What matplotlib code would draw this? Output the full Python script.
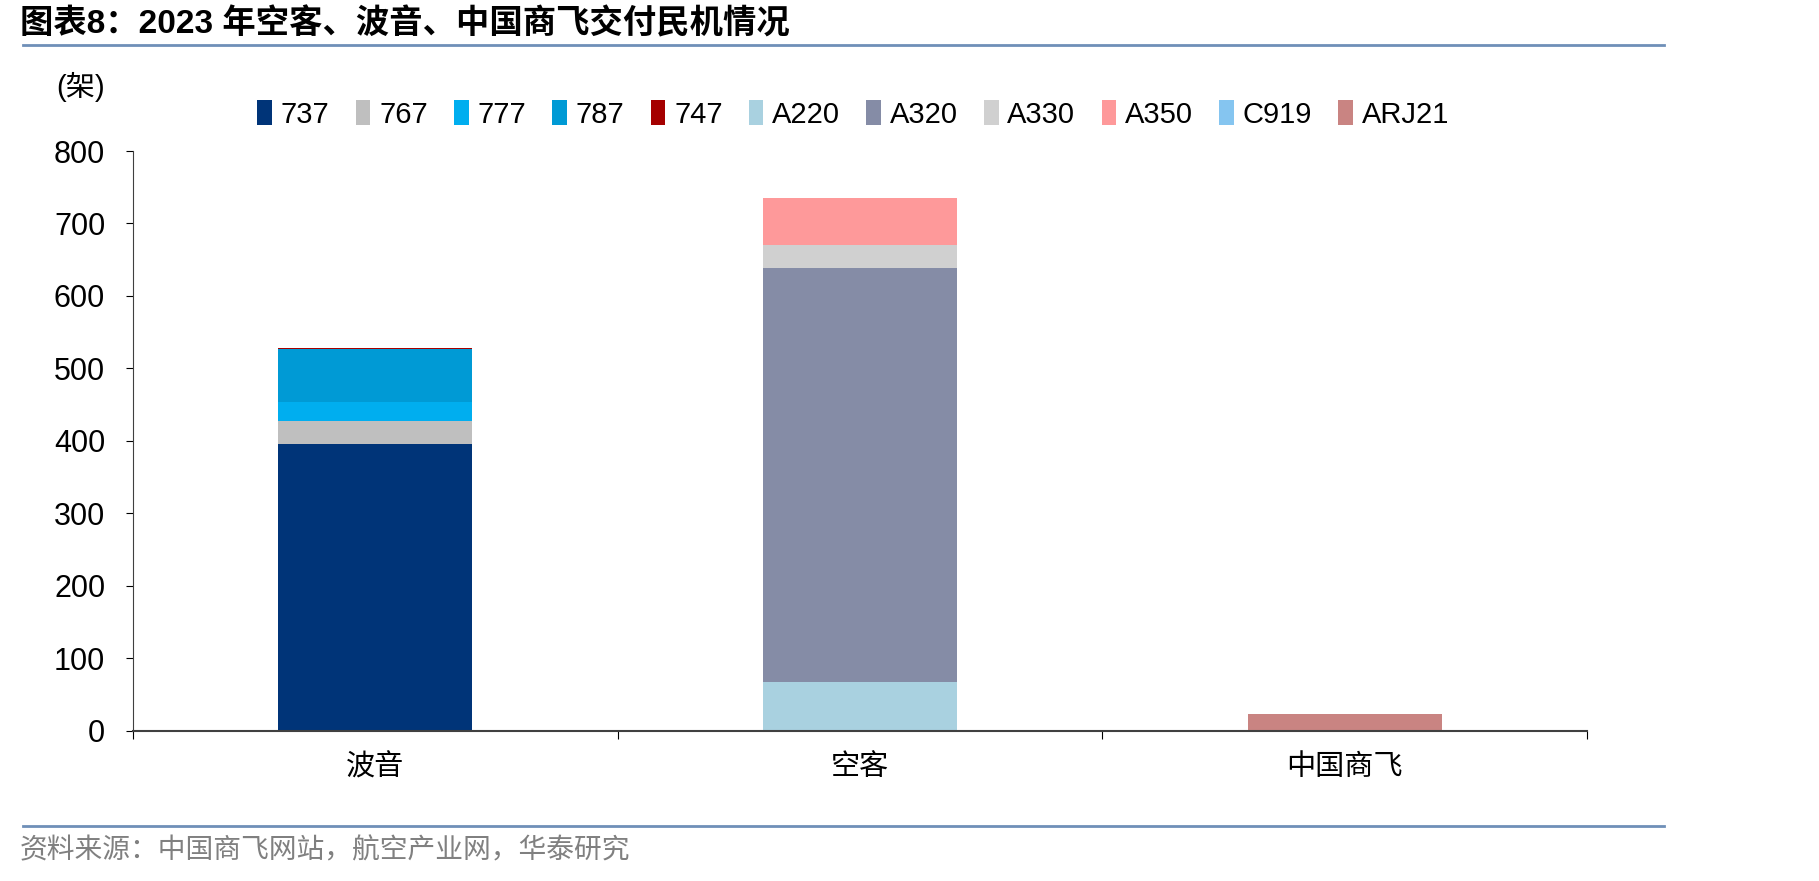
import numpy as np
import matplotlib
matplotlib.use('Agg')
from matplotlib import pyplot as plt

plt.rcParams['font.family'] = ['Liberation Sans', 'Noto Sans CJK SC']

cats = ['波音', '空客', '中国商飞']
names = ['737', '767', '777', '787', '747', 'A220', 'A320', 'A330', 'A350', 'C919', 'ARJ21']
vals = {
    '737': [396, 0, 0],
    '767': [32, 0, 0],
    '777': [26, 0, 0],
    '787': [73, 0, 0],
    '747': [1, 0, 0],
    'A220': [0, 68, 0],
    'A320': [0, 571, 0],
    'A330': [0, 32, 0],
    'A350': [0, 64, 0],
    'C919': [0, 0, 2],
    'ARJ21': [0, 0, 21],
}
colors = ['#003478', '#bfbfbf', '#00aeef', '#009ad5', '#a50000', '#a9d1e0',
          '#858ca6', '#d0d0d0', '#fe999a', '#85c5f0', '#c98482']

fig = plt.figure(figsize=(18.19, 8.81), dpi=100)
ax = fig.add_axes([0.0731, 0.1703, 0.7994, 0.6583])

x = np.arange(len(cats))
bottom = np.zeros(len(cats))
for n, c in zip(names, colors):
    v = np.array(vals[n], dtype=float)
    ax.bar(x, v, width=0.40, bottom=bottom, color=c, label=n)
    bottom += v

ax.set_xlim(-0.5, 2.5)
ax.set_ylim(0, 800)
ax.set_yticks(range(0, 801, 100))
ax.tick_params(axis='y', labelsize=22, length=5, direction='out', pad=15)
ax.set_xticks([-0.5, 0.5, 1.5, 2.5])
ax.set_xticklabels([])
ax.tick_params(axis='x', length=6, direction='out')
ax.set_xticks(x, minor=True)
ax.set_xticklabels(cats, minor=True, fontsize=21)
ax.tick_params(axis='x', which='minor', length=0, pad=16)
for s in ['top', 'right']:
    ax.spines[s].set_visible(False)
ax.spines['left'].set_color('#404040')
ax.spines['bottom'].set_color('#404040')
ax.spines['bottom'].set_linewidth(1.5)

fig.legend(ncol=11, loc='center', bbox_to_anchor=(0.469, 0.87), frameon=False,
           fontsize=21, handlelength=0.5, handleheight=0.9, handletextpad=0.3,
           columnspacing=0.9)

fig.text(0.031, 0.901, '(架)', fontsize=21, ha='left', va='center')

fig.text(0.011, 0.973, '图表8：2023 年空客、波音、中国商飞交付民机情况', fontsize=24,
         fontweight='bold', ha='left', va='center')
fig.add_artist(plt.Line2D([0.0127, 0.915], [0.949, 0.949], color='#6f8fb8', lw=2))
fig.add_artist(plt.Line2D([0.0127, 0.915], [0.0625, 0.0625], color='#6f8fb8', lw=2))
fig.text(0.011, 0.034, '资料来源：中国商飞网站，航空产业网，华泰研究', fontsize=20,
         color='#808080', ha='left', va='center')

fig.savefig('out.png', dpi=100)
